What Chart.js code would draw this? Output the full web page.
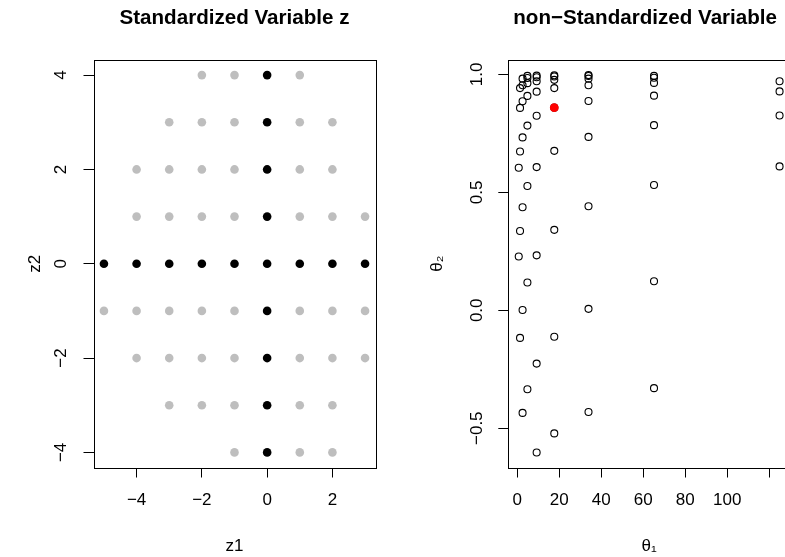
<!DOCTYPE html>
<html><head><meta charset="utf-8">
<script src="https://cdn.jsdelivr.net/npm/chart.js@4.4.1/dist/chart.umd.min.js"></script>
<style>
html,body{margin:0;padding:0;background:#fff;overflow:hidden;width:785px;height:557px;}
#wrap{position:relative;width:785px;height:557px;overflow:hidden;}
#c1{position:absolute;left:0;top:0;}
#c2{position:absolute;left:392px;top:0;}
</style></head><body>
<div id="wrap"><canvas id="c1" width="392" height="557"></canvas><canvas id="c2" width="420" height="557"></canvas></div>
<script>
// ---- Left panel: standardized grid z = (z1, z2) ----
const grayZ1 = [-2,-1,1, -3,-2,-1,1,2, -4,-3,-2,-1,1,2, -4,-3,-2,-1,1,2,3, -5,-4,-3,-2,-1,1,2,3, -4,-3,-2,-1,1,2,3, -3,-2,-1,1,2, -1,1,2];
const grayZ2 = [4,4,4, 3,3,3,3,3, 2,2,2,2,2,2, 1,1,1,1,1,1,1, -1,-1,-1,-1,-1,-1,-1,-1, -2,-2,-2,-2,-2,-2,-2, -3,-3,-3,-3,-3, -4,-4,-4];
const blackZ1 = [0,0,0,0, -5,-4,-3,-2,-1,0,1,2,3, 0,0,0,0];
const blackZ2 = [4,3,2,1, 0,0,0,0,0,0,0,0,0, -1,-2,-3,-4];

// ---- Right panel: non-standardized (theta1, theta2) ----
const theta1 = [
  4.8, 9.2, 17.6, 33.9,
  2.5, 4.8, 9.2, 17.6, 33.9, 65.1,
  1.29, 2.5, 4.8, 9.2, 17.6, 33.9, 65.1,
  1.29, 2.5, 4.8, 9.2, 17.6, 33.9, 65.1, 124.9,
  0.67, 1.29, 2.5, 4.8, 9.2, 17.6, 33.9, 65.1, 124.9,
  0.67, 1.29, 2.5, 4.8, 9.2, 17.6, 33.9, 65.1, 124.9,
  1.29, 2.5, 4.8, 9.2, 17.6, 33.9, 65.1, 124.9,
  2.5, 4.8, 9.2, 17.6, 33.9, 65.1,
  9.2, 17.6, 33.9, 65.1
];
const theta2 = [
  0.994, 0.995, 0.996, 0.997,
  0.982, 0.985, 0.988, 0.991, 0.993, 0.994,
  0.942, 0.954, 0.963, 0.971, 0.977, 0.982, 0.986,
  0.858, 0.886, 0.909, 0.927, 0.942, 0.954, 0.964, 0.971,
  0.604, 0.673, 0.733, 0.783, 0.825, 0.859, 0.887, 0.910, 0.928,
  0.228, 0.336, 0.437, 0.527, 0.607, 0.676, 0.735, 0.785, 0.826,
  -0.117, 0.001, 0.118, 0.233, 0.341, 0.441, 0.531, 0.610,
  -0.435, -0.335, -0.226, -0.112, 0.006, 0.123,
  -0.603, -0.522, -0.431, -0.330
];
const modeTheta1 = [17.6];
const modeTheta2 = [0.859];

const leftTitle = 'Standardized Variable z';
const rightTitle = 'non\u2212Standardized Variable';

const FONT = 'Liberation Sans';
const minus = v => String(v).replace('-', '\u2212');
const pts = (xs, ys) => xs.map((x, i) => ({x: x, y: ys[i]}));

const framePlugin = {
  id: 'frame',
  afterDraw(chart, args, opts) {
    const {ctx, chartArea: a} = chart;
    ctx.save();
    ctx.strokeStyle = '#000';
    ctx.lineWidth = 1;
    ctx.strokeRect(Math.round(a.left) + 0.5, Math.round(a.top) + 0.5, Math.round(a.right - a.left), Math.round(a.bottom - a.top));
    ctx.font = 'bold 20.6px "' + FONT + '"';
    ctx.fillStyle = '#000';
    ctx.textAlign = 'center';
    ctx.textBaseline = 'middle';
    ctx.fillText(opts.text, (a.left + a.right) / 2 + (opts.dx || 0), 18.5);
    ctx.restore();
  }
};

function axis(o) {
  return {
    type: 'linear',
    min: o.min, max: o.max,
    afterFit: o.fit,
    grid: {display: true, drawOnChartArea: false, drawTicks: true, tickLength: 10, color: '#000', lineWidth: 1},
    border: {display: false},
    ticks: Object.assign({
      stepSize: o.step, includeBounds: false, color: '#000',
      font: {family: FONT, size: 17}, autoSkip: false
    }, o.ticks),
    title: Object.assign({display: true, color: '#000', font: {family: FONT, size: 17}}, o.title)
  };
}

Chart.defaults.animation = false;

new Chart(document.getElementById('c1'), {
  type: 'scatter',
  data: {datasets: [
    {data: pts(blackZ1, blackZ2), backgroundColor: '#000000', borderColor: '#000000', borderWidth: 0, pointRadius: 4.3},
    {data: pts(grayZ1, grayZ2), backgroundColor: '#BEBEBE', borderColor: '#BEBEBE', borderWidth: 0, pointRadius: 4.3}
  ]},
  options: {
    responsive: false, events: [],
    layout: {padding: {left: 0, top: 60, right: 16.5, bottom: 0}},
    plugins: {legend: {display: false}, tooltip: {enabled: false}, frame: {text: leftTitle}},
    scales: {
      x: axis({min: -5.32, max: 3.32, step: 2, fit: s => { s.height = 89.5; },
        ticks: {padding: 13, maxRotation: 0, callback: v => minus(v)},
        title: {text: 'z1', padding: {top: 0, bottom: 0}}}),
      y: axis({min: -4.32, max: 4.32, step: 2, fit: s => { s.width = 93.5; },
        ticks: {padding: 12, minRotation: 90, maxRotation: 90, crossAlign: 'center', callback: v => minus(v)},
        title: {text: 'z2', padding: {top: 25, bottom: 0}}})
    }
  },
  plugins: [framePlugin]
});

new Chart(document.getElementById('c2'), {
  type: 'scatter',
  data: {datasets: [
    {data: pts(modeTheta1, modeTheta2), backgroundColor: '#FF0000', borderColor: '#FF0000', borderWidth: 0, pointRadius: 4.4},
    {data: pts(theta1, theta2), backgroundColor: 'rgba(0,0,0,0)', borderColor: '#000000', borderWidth: 1.1, pointRadius: 3.5}
  ]},
  options: {
    responsive: false, events: [],
    layout: {padding: {left: 0, top: 60, right: 22, bottom: 0}},
    plugins: {legend: {display: false}, tooltip: {enabled: false}, frame: {text: rightTitle, dx: -4}},
    scales: {
      x: axis({min: -4.3, max: 129.87, step: 20, fit: s => { s.height = 89.5; },
        ticks: {padding: 13, maxRotation: 0, callback: v => (v > 110 ? '' : String(v))},
        title: {text: '\u03b8\u2081', padding: {top: 0, bottom: 0}}}),
      y: axis({min: -0.6665, max: 1.0611, step: 0.5, fit: s => { s.width = 116.3; },
        ticks: {padding: 4, minRotation: 90, maxRotation: 90, crossAlign: 'center', callback: v => minus(Number(v).toFixed(1))},
        title: {text: '\u03b8\u2082', padding: {top: 35, bottom: 0}}})
    }
  },
  plugins: [framePlugin]
});
</script>
</body></html>
